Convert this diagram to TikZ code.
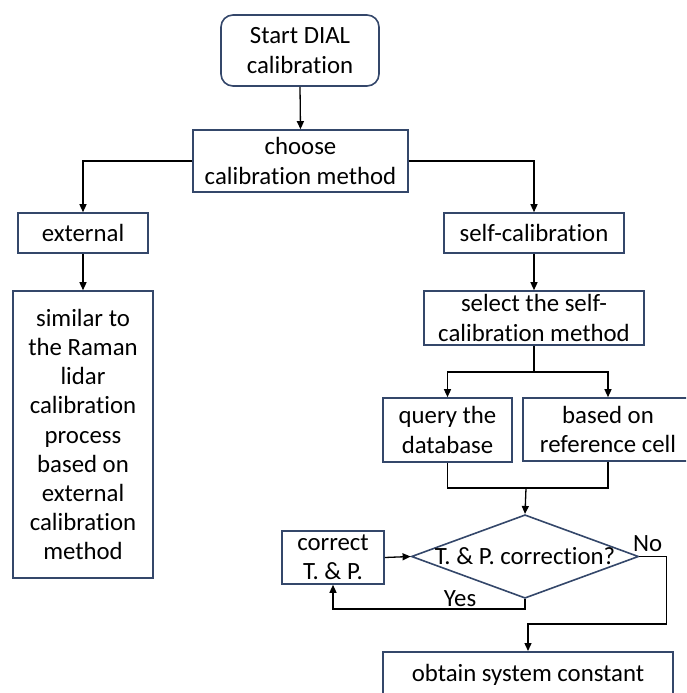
\documentclass[tikz,border=0pt]{standalone}
\usepackage{fontspec}
\setmainfont{Carlito}[Ligatures=NoCommon]
\usetikzlibrary{arrows.meta,shapes.geometric}
\definecolor{boxline}{HTML}{34476A}
\tikzset{
  txt/.style={font=\fontsize{24.8}{29.2}\selectfont},
  box/.style={txt, draw=boxline, line width=1.6pt, fill=white, inner sep=0pt, align=center},
  roundbox/.style={box, rounded corners=12pt},
  link/.style={draw=black, line width=1.3pt},
  arr/.style={link, -{Triangle[length=8pt,width=7pt]}},
  lbl/.style={txt, inner sep=0pt}
}
\begin{document}
\begin{tikzpicture}[x=1pt,y=-1pt]
\useasboundingbox (0,0) rectangle (686,693);
\clip (0,0) rectangle (686,693);

% boxes
\node[roundbox, minimum width=158pt, minimum height=71pt] (start) at (300,50.5) {Start DIAL\\calibration};
\node[box, minimum width=215pt, minimum height=62pt] (choose) at (300.5,161) {choose\\calibration method};
\node[box, minimum width=130pt, minimum height=40pt] (ext) at (83,233) {external};
\node[box, minimum width=140pt, minimum height=287pt] (similar) at (83,434.5) {similar to\\the Raman\\lidar\\calibration\\process\\based on\\external\\calibration\\method};
\node[box, minimum width=180pt, minimum height=40pt] (selfcal) at (534,233) {self-calibration};
\node[box, minimum width=220pt, minimum height=54pt] (select) at (534,318) {select the self-\\calibration method};
\node[box, minimum width=129pt, minimum height=64pt] (query) at (447.5,430) {query the\\database};
\node[box, minimum width=170pt, minimum height=63pt] (refcell) at (608,429.5) {based on\\reference cell};
\node[box, diamond, aspect=2.72, minimum width=226pt, minimum height=83pt] (check) at (525,556.5) {T. \& P. correction?};
\node[box, minimum width=102pt, minimum height=53pt] (correct) at (333,557.5) {correct\\T. \& P.};
\node[box, minimum width=290pt, minimum height=70pt, anchor=north] (obtain) at (528,651) {};
\node[lbl] at (528,675) {obtain system constant};

% helper points
\coordinate (merge) at (526,488);
\coordinate (split) at (534,372);

% connectors
\draw[arr] (start.south) -- (choose.north);
\draw[arr] (choose.west) -| (ext.north);
\draw[arr] (choose.east) -| (selfcal.north);
\draw[arr] (ext.south) -- (similar.north);
\draw[arr] (selfcal.south) -- (select.north);
\draw[link] (select.south) -- (split);
\draw[arr] (split) -| (query.north);
\draw[arr] (split) -| (refcell.north);
\draw[link] (query.south) |- (merge);
\draw[link] (refcell.south) |- (merge);
\draw[arr] (merge) -- (check.north);
\draw[arr] (correct.east) -- (check.west);
\draw[arr] (check.south) -- ++(0,10) -| (correct.south);
\draw[arr] (check.east) -- ++(27,0) |- (528,624) -- (obtain.north);

% branch labels
\node[lbl, anchor=base] at (460,606) {Yes};
\node[lbl, anchor=base west] at (633,551) {No};
\end{tikzpicture}
\end{document}
